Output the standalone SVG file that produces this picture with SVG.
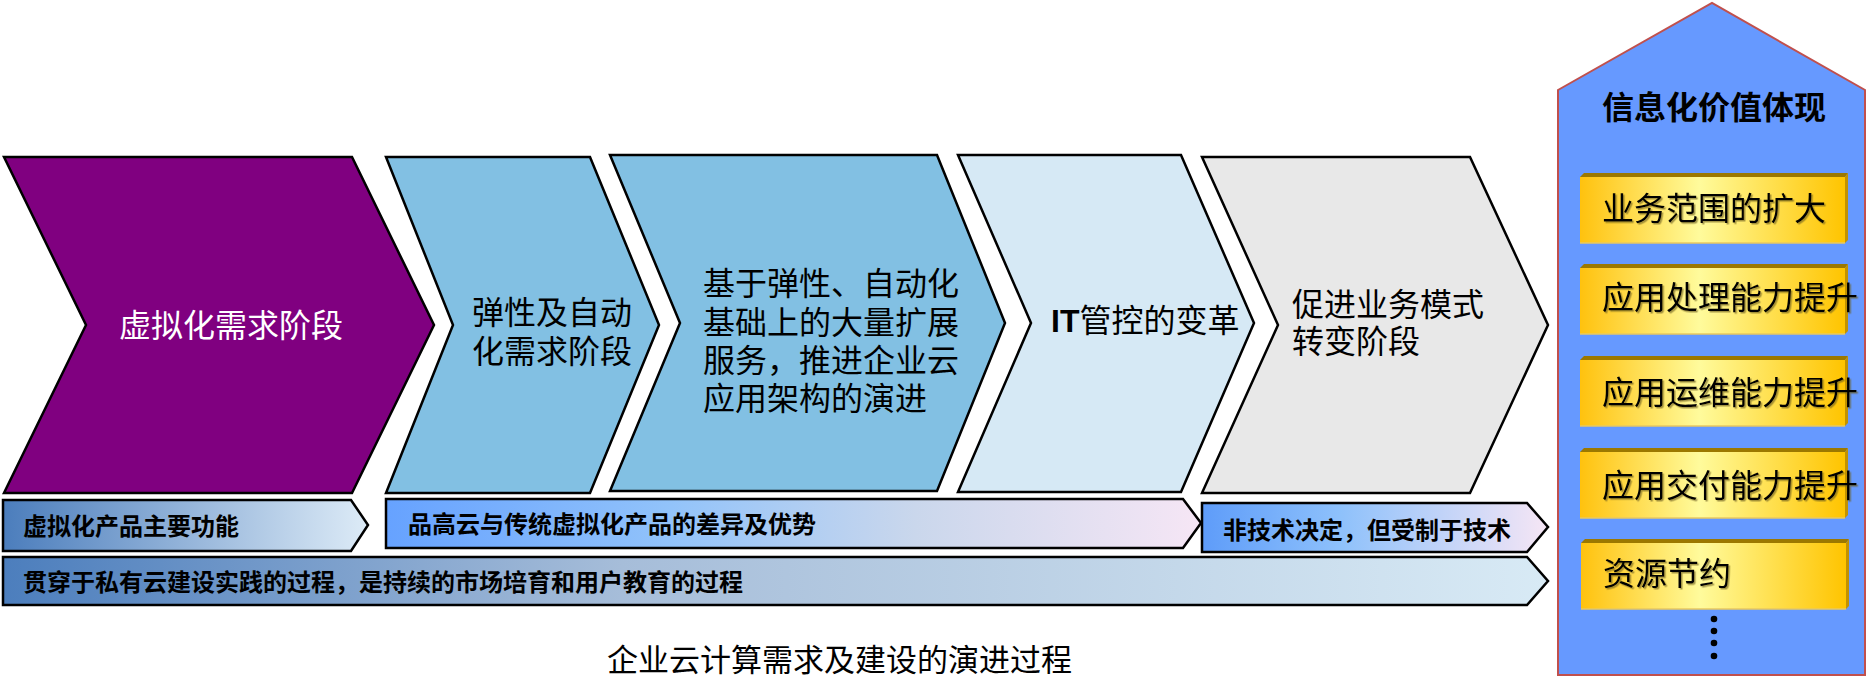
<svg xmlns="http://www.w3.org/2000/svg" width="1866" height="678" viewBox="0 0 1866 678">
<defs>
<style>
.t{font-family:"Liberation Sans","Noto Sans CJK SC",sans-serif;fill:#000}
.c{font-size:32px}
.b{font-size:24px;font-weight:bold}
.chev{stroke:#000;stroke-width:2.5;stroke-linejoin:miter}
.bar{stroke:#000;stroke-width:2.5}
.g{font-size:32px}
.cap{font-family:"Liberation Serif","Noto Sans CJK SC",serif;font-size:31px;fill:#000}
</style>
<linearGradient id="gb1" x1="0" y1="0" x2="1" y2="0"><stop offset="0" stop-color="#4B7DBC"/><stop offset="1" stop-color="#DDEBF7"/></linearGradient>
<linearGradient id="gb2" x1="0" y1="0" x2="1" y2="0"><stop offset="0" stop-color="#66A2FF"/><stop offset="0.35" stop-color="#92C3FA"/><stop offset="0.65" stop-color="#CAD7EC"/><stop offset="1" stop-color="#F6E6F5"/></linearGradient>
<linearGradient id="gb3" x1="0" y1="0" x2="1" y2="0"><stop offset="0" stop-color="#5E9CF9"/><stop offset="0.4" stop-color="#8EC1FB"/><stop offset="1" stop-color="#F6E6F5"/></linearGradient>
<linearGradient id="gb4" x1="0" y1="0" x2="1" y2="0"><stop offset="0" stop-color="#4C7EBD"/><stop offset="0.4" stop-color="#A6BDD9"/><stop offset="1" stop-color="#D8EAF5"/></linearGradient>
<linearGradient id="gold" x1="0" y1="0" x2="1" y2="0"><stop offset="0" stop-color="#FFC20E"/><stop offset="0.45" stop-color="#FFFB9C"/><stop offset="1" stop-color="#FFC400"/></linearGradient>
<filter id="sh" x="-5%" y="-20%" width="110%" height="140%"><feDropShadow dx="1.5" dy="1.5" stdDeviation="0.6" flood-color="#6b5a20" flood-opacity="0.6"/></filter>
<g id="goldbox">
<rect x="0" y="4" width="265" height="66" fill="url(#gold)"/>
<polygon points="0,4 4,0 268,0 265,4" fill="#9C7800"/>
<polygon points="265,4 268,0 268,67 265,70" fill="#C29200"/>
<line x1="0" y1="70" x2="265" y2="70" stroke="#E8C860" stroke-width="1.5"/>
</g>
</defs>
<rect width="1866" height="678" fill="#fff"/>

<g id="stage1">
<polygon class="chev" points="4,157 352,157 434,325 352,493 4,493 86,325" fill="#800080"/>
<text class="t c" x="119" y="337" style="fill:#fff">虚拟化需求阶段</text>
</g>
<g id="stage2">
<polygon class="chev" points="386,157 590,157 659,325 590,493 386,493 453,325" fill="#82C0E3"/>
<text class="t c" x="472" y="324">弹性及自动</text>
<text class="t c" x="472" y="363">化需求阶段</text>
</g>
<g id="stage3">
<polygon class="chev" points="610,155 937,155 1005,323 937,491 610,491 680,323" fill="#82C0E3"/>
<text class="t c" x="703" y="295">基于弹性、自动化</text>
<text class="t c" x="703" y="334">基础上的大量扩展</text>
<text class="t c" x="703" y="372">服务，推进企业云</text>
<text class="t c" x="703" y="410">应用架构的演进</text>
</g>
<g id="stage4">
<polygon class="chev" points="958,155 1181,155 1254,323 1181,492 958,492 1031,323" fill="#D6E9F5"/>
<text class="t c" x="1051" y="332"><tspan font-weight="bold">IT</tspan>管控的变革</text>
</g>
<g id="stage5">
<polygon class="chev" points="1202,157 1470,157 1548,325 1470,493 1202,493 1278,325" fill="#E8E8E8"/>
<text class="t c" x="1292" y="316">促进业务模式</text>
<text class="t c" x="1292" y="353">转变阶段</text>
</g>

<g id="bar1">
<polygon class="bar" points="3,500 351,500 368,525 351,551 3,551" fill="url(#gb1)"/>
<text class="t b" x="23" y="535">虚拟化产品主要功能</text>
</g>
<g id="bar2">
<polygon class="bar" points="386,499 1183,499 1201,523 1183,548 386,548" fill="url(#gb2)"/>
<text class="t b" x="408" y="533">品高云与传统虚拟化产品的差异及优势</text>
</g>
<g id="bar3">
<polygon class="bar" points="1202,503 1527,503 1548,527 1527,552 1202,552" fill="url(#gb3)"/>
<text class="t b" x="1223" y="539">非技术决定，但受制于技术</text>
</g>
<g id="bar4">
<polygon class="bar" points="3,557 1527,557 1548,581 1527,605 3,605" fill="url(#gb4)"/>
<text class="t b" x="23" y="591">贯穿于私有云建设实践的过程，是持续的市场培育和用户教育的过程</text>
</g>

<g id="value-house">
<polygon points="1558,90 1712,3 1865,90 1865,675 1558,675" fill="#6699FF" stroke="#C0504D" stroke-width="2"/>
<text class="t" x="1602" y="119" font-size="32" font-weight="bold">信息化价值体现</text>
</g>
<g id="value1">
<use href="#goldbox" x="1580" y="173"/>
<text class="t g" x="1602" y="220" filter="url(#sh)">业务范围的扩大</text>
</g>
<g id="value2">
<use href="#goldbox" x="1580" y="264"/>
<text class="t g" x="1602" y="309" filter="url(#sh)">应用处理能力提升</text>
</g>
<g id="value3">
<use href="#goldbox" x="1580" y="356"/>
<text class="t g" x="1602" y="404" filter="url(#sh)">应用运维能力提升</text>
</g>
<g id="value4">
<use href="#goldbox" x="1580" y="448"/>
<text class="t g" x="1602" y="497" filter="url(#sh)">应用交付能力提升</text>
</g>
<g id="value5">
<use href="#goldbox" x="1581" y="539"/>
<text class="t g" x="1603" y="585" filter="url(#sh)">资源节约</text>
</g>
<g id="ellipsis" fill="#000">
<circle cx="1714" cy="619" r="3.3"/>
<circle cx="1714" cy="631" r="3.3"/>
<circle cx="1714" cy="643" r="3.3"/>
<circle cx="1714" cy="656" r="3.3"/>
</g>

<g id="caption">
<text class="cap" x="607" y="671">企业云计算需求及建设的演进过程</text>
</g>
</svg>
